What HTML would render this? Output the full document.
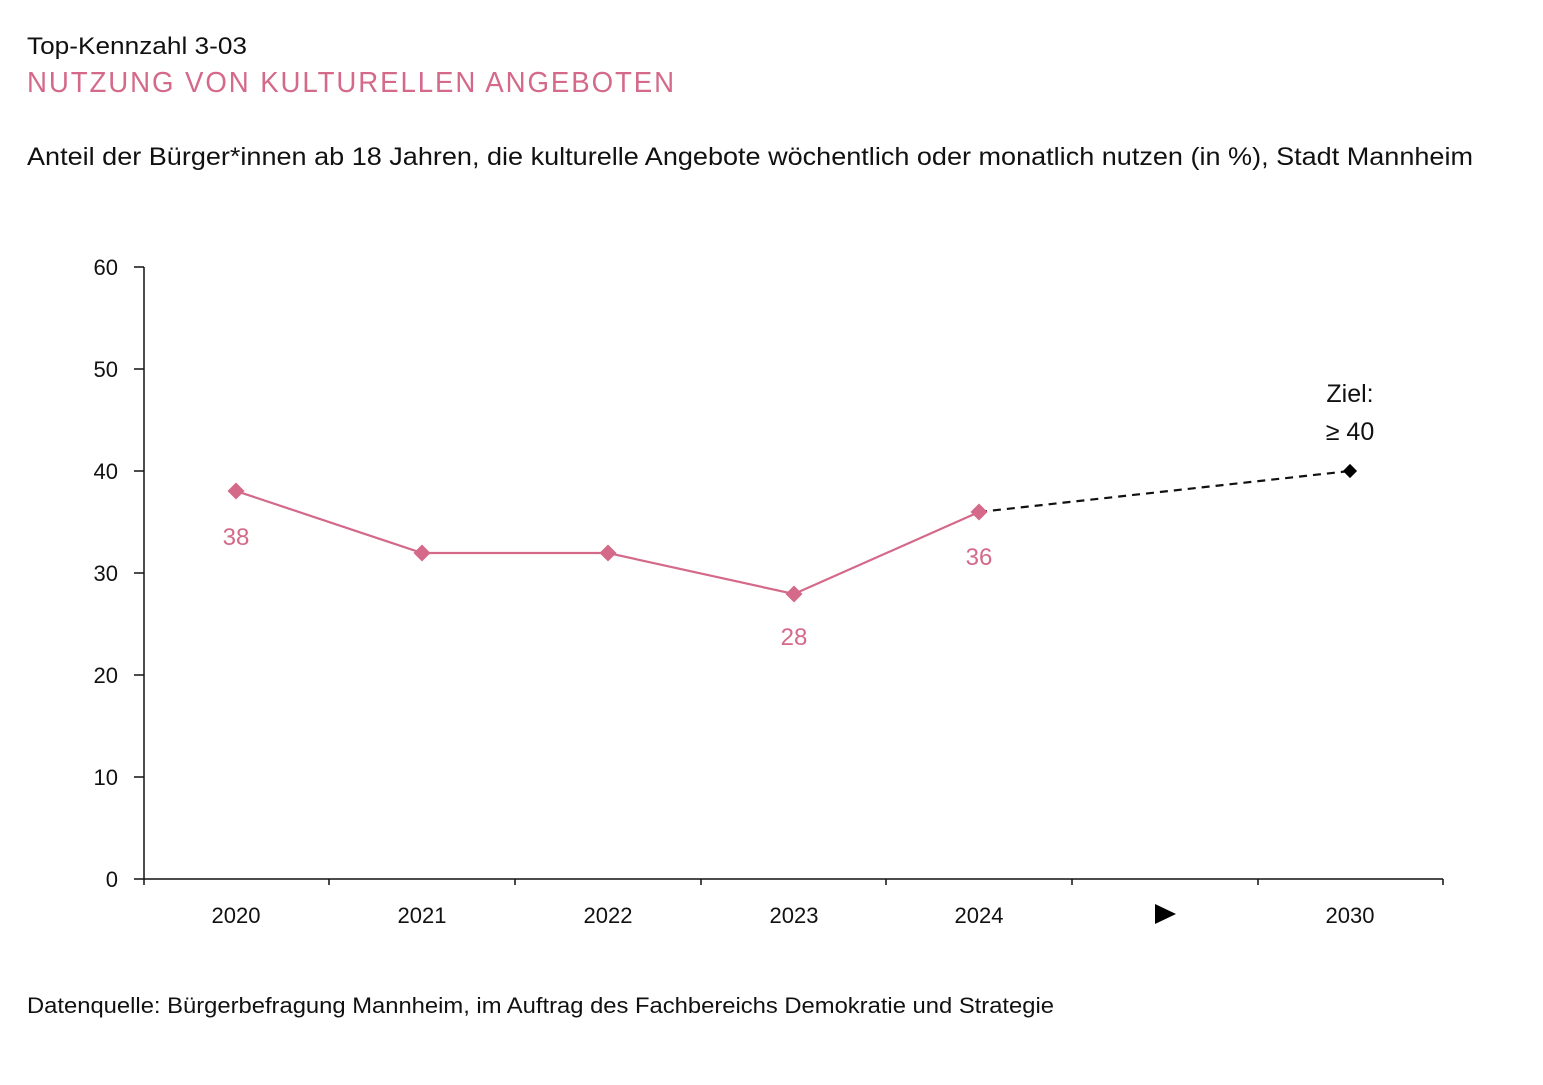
<!DOCTYPE html>
<html><head><meta charset="utf-8"><style>
body{margin:0;background:#fff;width:1543px;height:1080px;overflow:hidden;font-family:"Liberation Sans",sans-serif}
</style></head><body>
<svg width="1543" height="1080" xmlns="http://www.w3.org/2000/svg" font-family="Liberation Sans, sans-serif">
<text x="27" y="54" font-size="24" fill="#111" textLength="220" lengthAdjust="spacingAndGlyphs">Top-Kennzahl 3-03</text>
<text x="27" y="92" font-size="29" fill="#d4698a" letter-spacing="2" textLength="649" lengthAdjust="spacingAndGlyphs">NUTZUNG VON KULTURELLEN ANGEBOTEN</text>
<text x="27" y="165" font-size="25" fill="#111" textLength="1446" lengthAdjust="spacingAndGlyphs">Anteil der Bürger*innen ab 18 Jahren, die kulturelle Angebote wöchentlich oder monatlich nutzen (in %), Stadt Mannheim</text>
<g stroke="#111" stroke-width="1.5">
<line x1="144" y1="267" x2="144" y2="885"/>
<line x1="144" y1="879" x2="1443" y2="879"/>
<line x1="134" y1="267" x2="144" y2="267"/><line x1="134" y1="369" x2="144" y2="369"/><line x1="134" y1="471" x2="144" y2="471"/><line x1="134" y1="573" x2="144" y2="573"/><line x1="134" y1="675" x2="144" y2="675"/><line x1="134" y1="777" x2="144" y2="777"/><line x1="134" y1="879" x2="144" y2="879"/>
<line x1="329" y1="879" x2="329" y2="885"/><line x1="515" y1="879" x2="515" y2="885"/><line x1="701" y1="879" x2="701" y2="885"/><line x1="886" y1="879" x2="886" y2="885"/><line x1="1072" y1="879" x2="1072" y2="885"/><line x1="1258" y1="879" x2="1258" y2="885"/><line x1="1443" y1="879" x2="1443" y2="885"/>
</g>
<g font-size="22" fill="#111" text-anchor="end">
<text x="118" y="275">60</text><text x="118" y="377">50</text><text x="118" y="479">40</text><text x="118" y="581">30</text><text x="118" y="683">20</text><text x="118" y="785">10</text><text x="118" y="887">0</text>
</g>
<g font-size="22" fill="#111" text-anchor="middle">
<text x="236" y="923">2020</text><text x="422" y="923">2021</text><text x="608" y="923">2022</text><text x="794" y="923">2023</text><text x="979" y="923">2024</text><text x="1350" y="923">2030</text>
</g>
<polygon points="1155,904 1176,914 1155,924" fill="#000"/>
<line x1="979" y1="512" x2="1350" y2="471" stroke="#111" stroke-width="2.2" stroke-dasharray="8,6"/>
<polyline points="236,491 422,553 608,553 794,594 979,512" fill="none" stroke="#d4698a" stroke-width="2.2"/>
<g fill="#d4698a">
<rect x="230" y="485" width="12" height="12" transform="rotate(45 236 491)"/>
<rect x="416" y="547" width="12" height="12" transform="rotate(45 422 553)"/>
<rect x="602" y="547" width="12" height="12" transform="rotate(45 608 553)"/>
<rect x="788" y="588" width="12" height="12" transform="rotate(45 794 594)"/>
<rect x="973" y="506" width="12" height="12" transform="rotate(45 979 512)"/>
</g>
<rect x="1345" y="466" width="10" height="10" transform="rotate(45 1350 471)" fill="#000"/>
<g font-size="24" fill="#d4698a" text-anchor="middle">
<text x="236" y="545">38</text><text x="794" y="645">28</text><text x="979" y="565">36</text>
</g>
<g font-size="25" fill="#111" text-anchor="middle">
<text x="1350" y="402">Ziel:</text><text x="1350" y="440">≥ 40</text>
</g>
<text x="27" y="1013" font-size="22" fill="#111" textLength="1027" lengthAdjust="spacingAndGlyphs">Datenquelle: Bürgerbefragung Mannheim, im Auftrag des Fachbereichs Demokratie und Strategie</text>
</svg>
</body></html>
